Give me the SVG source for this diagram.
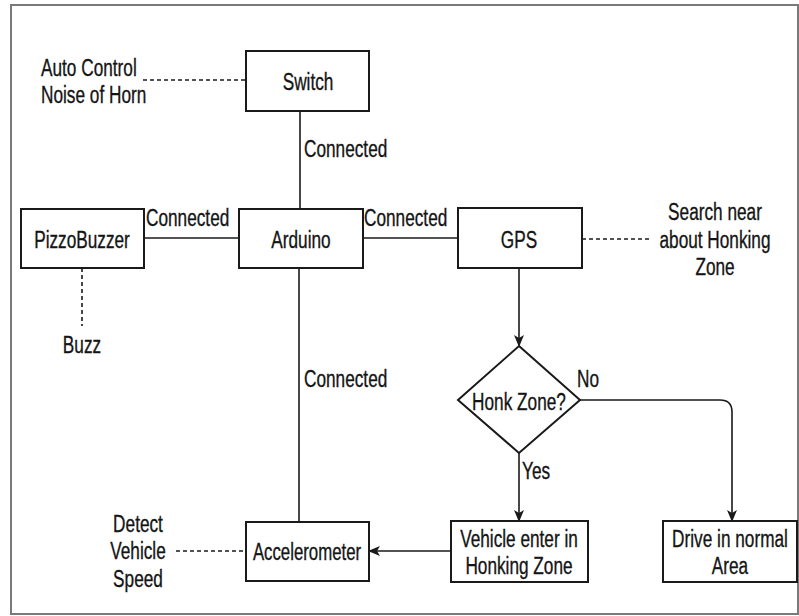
<svg xmlns="http://www.w3.org/2000/svg" width="799" height="616" viewBox="0 0 799 616">
<style>
.box{fill:#fff;stroke:#1a1a1a;stroke-width:2}
.ln{fill:none;stroke:#1a1a1a;stroke-width:1.6}
.dash{fill:none;stroke:#1a1a1a;stroke-width:1.6;stroke-dasharray:4 3}
text{font-family:"Liberation Sans",Arial,sans-serif;font-size:21px;fill:#141414;stroke:#141414;stroke-width:0.3}
.c{text-anchor:middle}
</style>
<defs>
<marker id="arr" viewBox="0 0 12 10" refX="11" refY="5" markerWidth="12" markerHeight="10" markerUnits="userSpaceOnUse" orient="auto">
<path d="M0,0 L12,5 L0,10 L3,5 Z" fill="#1a1a1a"/>
</marker>
</defs>
<rect x="11" y="5" width="787" height="609" fill="#fff" stroke="#7a7a7a" stroke-width="2"/>
<g id="connectors">
<line class="ln" x1="300" y1="111" x2="300" y2="209"/>
<line class="ln" x1="144" y1="238" x2="239" y2="238"/>
<line class="ln" x1="363" y1="238" x2="458" y2="238"/>
<line class="ln" x1="299" y1="268" x2="299" y2="522"/>
<line class="ln" x1="519" y1="268" x2="519" y2="346" marker-end="url(#arr)"/>
<line class="ln" x1="519" y1="453" x2="519" y2="521" marker-end="url(#arr)"/>
<path class="ln" d="M580,400 H720 Q732,400 732,412 V521" marker-end="url(#arr)"/>
<line class="ln" x1="451" y1="551" x2="369" y2="551" stroke-width="2.4" marker-end="url(#arr)"/>
<line class="dash" x1="143" y1="80" x2="246" y2="80"/>
<line class="dash" x1="582" y1="239" x2="650" y2="239"/>
<line class="dash" x1="82" y1="268" x2="82" y2="326"/>
<line class="dash" x1="176" y1="551" x2="246" y2="551"/>
<text transform="translate(304 157) scale(0.82 1.12)">Connected</text>
<text transform="translate(146 226) scale(0.82 1.12)">Connected</text>
<text transform="translate(364 226) scale(0.82 1.12)">Connected</text>
<text transform="translate(304 387) scale(0.82 1.12)">Connected</text>
<text transform="translate(577 387) scale(0.82 1.12)">No</text>
<text transform="translate(522 479) scale(0.82 1.12)">Yes</text>
</g>
<g id="switch"><rect class="box" x="246" y="51" width="123" height="60"/><text class="c" transform="translate(308 90) scale(0.82 1.12)">Switch</text></g>
<g id="pizzobuzzer"><rect class="box" x="21" y="209" width="123" height="59"/><text class="c" transform="translate(82 248) scale(0.82 1.12)">PizzoBuzzer</text></g>
<g id="arduino"><rect class="box" x="239" y="209" width="124" height="59"/><text class="c" transform="translate(301 248) scale(0.82 1.12)">Arduino</text></g>
<g id="gps"><rect class="box" x="458" y="208" width="124" height="60"/><text class="c" transform="translate(519 248) scale(0.82 1.12)">GPS</text></g>
<g id="honkzone"><polygon class="box" points="519,346 580,400 519,453 458,400"/><text class="c" transform="translate(519 410) scale(0.82 1.12)">Honk Zone?</text></g>
<g id="vehicle"><rect class="box" x="451" y="521" width="137" height="61"/><text class="c" transform="translate(519 547) scale(0.82 1.12)">Vehicle enter in</text><text class="c" transform="translate(519 574) scale(0.82 1.12)">Honking Zone</text></g>
<g id="drive"><rect class="box" x="663" y="521" width="134" height="61"/><text class="c" transform="translate(730 547) scale(0.82 1.12)">Drive in normal</text><text class="c" transform="translate(730 574) scale(0.82 1.12)">Area</text></g>
<g id="accelerometer"><rect class="box" x="246" y="522" width="123" height="59"/><text class="c" transform="translate(307 560) scale(0.8 1.12)">Accelerometer</text></g>
<g id="note-auto"><text transform="translate(41 76) scale(0.82 1.12)">Auto Control</text><text transform="translate(41 103) scale(0.82 1.12)">Noise of Horn</text></g>
<g id="note-search"><text class="c" transform="translate(715 220) scale(0.82 1.12)">Search near</text><text class="c" transform="translate(715 248) scale(0.82 1.12)">about Honking</text><text class="c" transform="translate(715 275) scale(0.82 1.12)">Zone</text></g>
<g id="note-buzz"><text class="c" transform="translate(82 353) scale(0.82 1.12)">Buzz</text></g>
<g id="note-detect"><text class="c" transform="translate(138 532) scale(0.82 1.12)">Detect</text><text class="c" transform="translate(138 559) scale(0.82 1.12)">Vehicle</text><text class="c" transform="translate(138 587) scale(0.82 1.12)">Speed</text></g>
</svg>
